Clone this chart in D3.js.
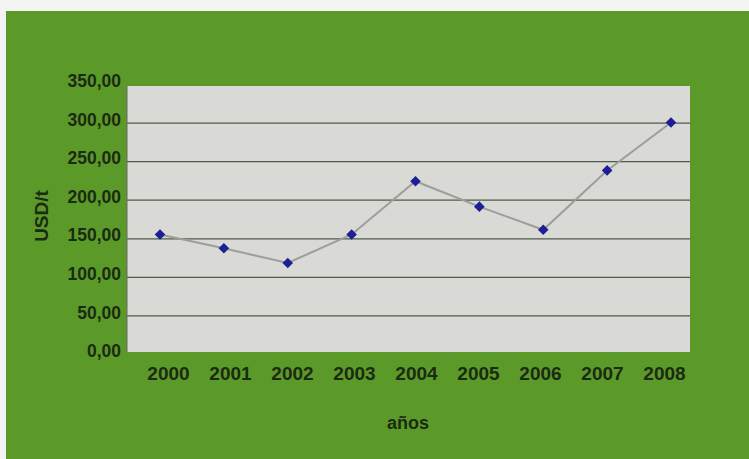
<!DOCTYPE html>
<html><head><meta charset="utf-8">
<script src="https://cdn.jsdelivr.net/npm/d3@7/dist/d3.min.js"></script>
<style>html,body{margin:0;padding:0;background:#fff;}svg{display:block;}</style>
</head><body>
<script>
const years = ["2000","2001","2002","2003","2004","2005","2006","2007","2008"];
const prices = [155, 137, 118, 155, 224, 191, 161, 238, 300];
const yTicks = [0, 50, 100, 150, 200, 250, 300, 350];

const W = 749, H = 459;
const FONT = "Liberation Sans, Arial, sans-serif";
const svg = d3.select("body").append("svg").attr("width", W).attr("height", H);

svg.append("rect").attr("x", 0).attr("y", 0).attr("width", W).attr("height", H).attr("fill", "#f4f5f2");
svg.append("rect").attr("x", 6).attr("y", 11).attr("width", W - 6).attr("height", H - 11).attr("fill", "#5b9a29");

const plotL = 127, plotR = 690;
const y = d3.scaleLinear().domain([0, 350]).range([354, 84]);
const x = d3.scalePoint().domain(years).range([160, 671]);
const xLab = d3.scalePoint().domain(years).range([168, 664]);

svg.append("rect").attr("x", plotL).attr("y", y(350) + 2).attr("width", plotR - plotL)
  .attr("height", y(0) - y(350) - 4).attr("fill", "#d9d9d5");

// gridlines
const grid = d3.axisLeft(y).tickValues(yTicks.filter(v => v > 0 && v < 350))
  .tickSize(-(plotR - plotL)).tickFormat("");
svg.append("g").attr("transform", `translate(${plotL},0)`).call(grid)
  .call(g => g.select(".domain").remove())
  .call(g => g.selectAll("line").attr("stroke", "#4f5a4a").attr("stroke-width", 1.2));

// left axis line
svg.append("line").attr("x1", plotL).attr("x2", plotL).attr("y1", y(350) + 2).attr("y2", y(0) - 2)
  .attr("stroke", "#6a6a66").attr("stroke-width", 1);

// y tick labels
const fmt = v => d3.format(".2f")(v).replace(".", ",");
const yAxis = d3.axisLeft(y).tickValues(yTicks).tickSize(0).tickPadding(6).tickFormat(fmt);
svg.append("g").attr("transform", `translate(${plotL},0)`).call(yAxis)
  .call(g => g.select(".domain").remove())
  .call(g => g.selectAll("text").attr("font-family", FONT)
    .attr("font-size", 17.5).attr("font-weight", "bold").attr("fill", "#1b2a12")
    .attr("dy", "0.15em"));

// x tick labels
const xAxis = d3.axisBottom(xLab).tickSize(0).tickPadding(0);
svg.append("g").attr("transform", `translate(0,366)`).call(xAxis)
  .call(g => g.select(".domain").remove())
  .call(g => g.selectAll("text").attr("font-family", FONT)
    .attr("font-size", 19).attr("font-weight", "bold").attr("fill", "#1b2a12"));

// axis titles
svg.append("text").attr("x", 408).attr("y", 429).attr("text-anchor", "middle")
  .attr("font-family", FONT).attr("font-size", 18)
  .attr("font-weight", "bold").attr("fill", "#1b2a12").text("años");
svg.append("text").attr("transform", "translate(48,216) rotate(-90)").attr("text-anchor", "middle")
  .attr("font-family", FONT).attr("font-size", 19)
  .attr("font-weight", "bold").attr("fill", "#1b2a12").text("USD/t");

// line
const line = d3.line().x((d, i) => x(years[i])).y(d => y(d));
svg.append("path").datum(prices).attr("d", line).attr("fill", "none")
  .attr("stroke", "#9c9e9a").attr("stroke-width", 2);

// markers
svg.append("g").selectAll("path").data(prices).join("path")
  .attr("transform", (d, i) => `translate(${x(years[i])},${y(d)}) rotate(45)`)
  .attr("d", d3.symbol(d3.symbolSquare, 56))
  .attr("fill", "#1c1f96");
</script>
</body></html>
